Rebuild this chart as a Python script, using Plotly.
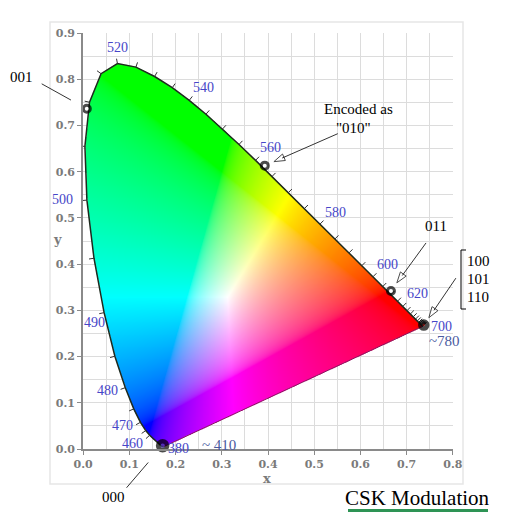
import numpy as np, zlib, struct, base64
import plotly.graph_objects as go

# CIE 1931 2-degree spectral locus (chromaticity x, y)
wavelengths = list(range(380, 705, 5))
locus_x = [0.1741, 0.1740, 0.1738, 0.1736, 0.1733, 0.1730, 0.1726, 0.1721, 0.1714, 0.1703,
           0.1689, 0.1669, 0.1644, 0.1611, 0.1566, 0.1510, 0.1440, 0.1355, 0.1241, 0.1096,
           0.0913, 0.0687, 0.0454, 0.0235, 0.0082, 0.0039, 0.0139, 0.0389, 0.0743, 0.1142,
           0.1547, 0.1929, 0.2296, 0.2658, 0.3016, 0.3373, 0.3731, 0.4087, 0.4441, 0.4788,
           0.5125, 0.5448, 0.5752, 0.6029, 0.6270, 0.6482, 0.6658, 0.6801, 0.6915, 0.7006,
           0.7079, 0.7140, 0.7190, 0.7230, 0.7260, 0.7283, 0.7300, 0.7311, 0.7320, 0.7327,
           0.7334, 0.7340, 0.7344, 0.7346, 0.7347]
locus_y = [0.0050, 0.0050, 0.0049, 0.0049, 0.0048, 0.0048, 0.0048, 0.0048, 0.0051, 0.0058,
           0.0069, 0.0086, 0.0109, 0.0138, 0.0177, 0.0227, 0.0297, 0.0399, 0.0578, 0.0868,
           0.1327, 0.2007, 0.2950, 0.4127, 0.5384, 0.6548, 0.7502, 0.8120, 0.8338, 0.8262,
           0.8059, 0.7816, 0.7543, 0.7243, 0.6923, 0.6589, 0.6245, 0.5896, 0.5547, 0.5202,
           0.4866, 0.4544, 0.4242, 0.3965, 0.3725, 0.3514, 0.3340, 0.3197, 0.3083, 0.2993,
           0.2920, 0.2859, 0.2809, 0.2770, 0.2740, 0.2717, 0.2700, 0.2689, 0.2680, 0.2673,
           0.2666, 0.2660, 0.2656, 0.2654, 0.2653]

# CSK symbol points
point_codes = ["000", "001", "010", "011", "100"]
point_x = [0.172, 0.008, 0.393, 0.666, 0.737]
point_y = [0.007, 0.736, 0.613, 0.342, 0.268]

# wavelength labels: (wavelength, text, pixel shift right, pixel shift down)
wl_labels = [(520, "520", 0, -16), (540, "540", 14, -13), (560, "560", 15, -13),
             (580, "580", 15, -12), (600, "600", 15, -12), (620, "620", 15, -13),
             (700, "700", 19, 0), (500, "500", -24, -1), (490, "490", -10, 10),
             (480, "480", -18, 3), (470, "470", -18, 3), (460, "460", -17, 8),
             (380, "380", 15, 2)]
approx_labels = [(700, "~780", 22, 15), (380, "~ 410", 55, -2)]

x_ticks = [0.0, 0.1, 0.2, 0.3, 0.4, 0.5, 0.6, 0.7, 0.8]
y_ticks = [0.0, 0.1, 0.2, 0.3, 0.4, 0.5, 0.6, 0.7, 0.8, 0.9]

# ---------- layout geometry ----------
W, H = 519, 523
ML, MR, MT, MB = 83, 66, 33, 74
PW, PH = W - ML - MR, H - MT - MB
PXU = PW / 0.8  # pixels per unit
XR, YR = 0.8, 0.9


def paper(px, py):
    return (px - ML) / PW, (H - MB - py) / PH


lx = np.array(locus_x)
ly = np.array(locus_y)

# ---------- colour fill image ----------
step = 0.002
gx = np.arange(0.0, 0.75 + step / 2, step)
gy = np.arange(0.0, 0.85 + step / 2, step)
GX, GY = np.meshgrid(gx, gy)
Yc = np.maximum(GY, 1e-4)
Xv = GX / Yc
Zv = (1 - GX - GY) / Yc
R = 3.2406 * Xv - 1.5372 - 0.4986 * Zv
G = -0.9689 * Xv + 1.8758 + 0.0415 * Zv
B = 0.0557 * Xv - 0.2040 + 1.0570 * Zv
rgb = np.clip(np.stack([R, G, B], -1), 0, None)
rgb = rgb / np.maximum(rgb.max(-1, keepdims=True), 1e-9)
rgb = np.where(rgb <= 0.0031308, 12.92 * rgb, 1.055 * np.power(rgb, 1 / 2.4) - 0.055)
inside = np.zeros(GX.shape, bool)
px_ = np.append(lx, lx[0])
py_ = np.append(ly, ly[0])
for i in range(len(px_) - 1):
    x1, y1, x2, y2 = px_[i], py_[i], px_[i + 1], py_[i + 1]
    cond = (y1 > GY) != (y2 > GY)
    dy = (y2 - y1) if y2 != y1 else 1e-12
    xint = (x2 - x1) * (GY - y1) / dy + x1
    inside ^= cond & (GX < xint)
rgba = np.zeros(GX.shape + (4,), np.uint8)
rgba[..., :3] = np.clip(rgb * 255 + 0.5, 0, 255).astype(np.uint8)
rgba[..., 3] = np.where(inside, 255, 0).astype(np.uint8)


def png_uri(img):
    h, w, _ = img.shape
    raw = b"".join(b"\x00" + img[i].tobytes() for i in range(h))

    def chunk(t, d):
        return struct.pack(">I", len(d)) + t + d + struct.pack(">I", zlib.crc32(t + d) & 0xffffffff)

    data = (b"\x89PNG\r\n\x1a\n" + chunk(b"IHDR", struct.pack(">IIBBBBB", w, h, 8, 6, 0, 0, 0))
            + chunk(b"IDAT", zlib.compress(raw, 9)) + chunk(b"IEND", b""))
    return "data:image/png;base64," + base64.b64encode(data).decode()


fig = go.Figure()
fig.add_trace(go.Image(source=png_uri(rgba), x0=gx[0], dx=step, y0=gy[0], dy=step,
                       hoverinfo="skip", zsmooth="fast"))

# ---------- locus outline ----------
fig.add_trace(go.Scatter(x=list(lx), y=list(ly), mode="lines",
                         line=dict(color="#1e2a1e", width=1.5), hoverinfo="skip"))
fig.add_trace(go.Scatter(x=[lx[-1], lx[0]], y=[ly[-1], ly[0]], mode="lines",
                         line=dict(color="#8a1660", width=1), hoverinfo="skip"))

# wavelength tick marks (5 nm) pointing outward
tlen = 5 / PXU
tx, ty = [], []
cx, cy = 0.33, 0.33
for i, wl in enumerate(wavelengths):
    if wl < 460:
        continue
    j0, j1 = max(i - 1, 0), min(i + 1, len(wavelengths) - 1)
    txg, tyg = lx[j1] - lx[j0], ly[j1] - ly[j0]
    n = np.hypot(txg, tyg)
    nx, ny = -tyg / n, txg / n
    if nx * (lx[i] - cx) + ny * (ly[i] - cy) < 0:
        nx, ny = -nx, -ny
    tx += [lx[i], lx[i] + nx * tlen, None]
    ty += [ly[i], ly[i] + ny * tlen, None]
fig.add_trace(go.Scatter(x=tx, y=ty, mode="lines", line=dict(color="#333333", width=1),
                         hoverinfo="skip", cliponaxis=False))

# ---------- arrows (tail offset px, standoff px) ----------
shapes = []
arrow_specs = {"001": (-45, -25, 9), "010": (73, -32, 10), "011": (35, -48, 10),
               "100": (32, -47, 9), "000": (-36, 42, 13)}
for code, (odx, ody, so) in arrow_specs.items():
    k = point_codes.index(code)
    x0, y0 = point_x[k], point_y[k]
    L = np.hypot(odx, ody)
    tailx, taily = x0 + odx / PXU, y0 - ody / PXU
    tipx, tipy = x0 + odx / L * so / PXU, y0 - ody / L * so / PXU
    basex, basey = x0 + odx / L * (so + 9) / PXU, y0 - ody / L * (so + 9) / PXU
    shapes.append(dict(type="line", xref="paper", yref="paper",
                       x0=tailx / XR, y0=taily / YR, x1=basex / XR, y1=basey / YR,
                       line=dict(color="black", width=0.8)))
    fig.add_trace(go.Scatter(x=[tailx, tipx], y=[taily, tipy], mode="markers",
                             marker=dict(symbol=["circle", "arrow"], size=[0, 11.5], color="white",
                                         angleref="previous",
                                         line=dict(color="black", width=1)),
                             hoverinfo="skip", cliponaxis=False))

# ---------- symbol points ----------
msize = [9, 7, 7, 7, 7]
mline = [4.5, 3, 3, 3, 4.5]
mcol = ["#4a3aa0", "white", "white", "white", "#800000"]
fig.add_trace(go.Scatter(x=point_x, y=point_y, mode="markers", text=point_codes,
                         marker=dict(size=msize, color=mcol, line=dict(color="black", width=mline)),
                         hoverinfo="text", cliponaxis=False))

annotations = []
lab_font = dict(family="Liberation Serif", size=14, color="#4646c8")
for wl, txt, sx, sy in wl_labels:
    i = wavelengths.index(wl)
    annotations.append(dict(x=lx[i], y=ly[i], xref="x", yref="y", text=txt, showarrow=False,
                            xanchor="center", yanchor="middle",
                            xshift=sx, yshift=-sy, font=lab_font))
for wl, txt, sx, sy in approx_labels:
    i = wavelengths.index(wl)
    annotations.append(dict(x=lx[i], y=ly[i], xref="x", yref="y", text=txt, showarrow=False,
                            xanchor="center", yanchor="middle", xshift=sx, yshift=-sy,
                            font=dict(family="Liberation Serif", size=15, color="#4a5aa0")))

note_font = dict(family="Liberation Serif", size=15, color="black")
notes = [("001", 21, 77, "center"), ("Encoded as", 358, 109, "center"), ('"010"', 353, 128, "center"),
         ("011", 436, 226, "center"), ("100", 465, 261, "left"), ("101", 465, 279, "left"),
         ("110", 465, 297, "left"), ("000", 113, 497, "center")]
for txt, px, py, anc in notes:
    xp, yp = paper(px, py)
    annotations.append(dict(x=xp, y=yp, xref="paper", yref="paper", text=txt, showarrow=False,
                            xanchor=anc, yanchor="middle", font=note_font))
xp, yp = paper(417.5, 498)
annotations.append(dict(x=xp, y=yp, xref="paper", yref="paper", text="CSK Modulation",
                        showarrow=False, xanchor="center", yanchor="middle",
                        font=dict(family="Liberation Serif", size=21, color="black")))
axis_font = dict(family="DejaVu Serif", size=13, color="#7a7a7a", weight="bold")
for txt, px, py in [("x", 267, 478), ("y", 57, 239)]:
    xp, yp = paper(px, py)
    annotations.append(dict(x=xp, y=yp, xref="paper", yref="paper", text=txt, showarrow=False,
                            xanchor="center", yanchor="middle", font=axis_font))

fx0, fy0 = paper(50, 22)
fx1, fy1 = paper(463, 484)
shapes.append(dict(type="rect", xref="paper", yref="paper", x0=fx0, y0=fy1, x1=fx1, y1=fy0,
                   line=dict(color="#e6e6e6", width=1.5), layer="below"))
b = [paper(466, 250), paper(461, 250), paper(461, 309), paper(466, 309)]
shapes.append(dict(type="path", xref="paper", yref="paper",
                   path="M{},{} L{},{} L{},{} L{},{}".format(*[v for p in b for v in p]),
                   line=dict(color="black", width=1)))
u0, u1 = paper(348, 510.5), paper(488, 510.5)
shapes.append(dict(type="line", xref="paper", yref="paper", x0=u0[0], y0=u0[1], x1=u1[0], y1=u1[1],
                   line=dict(color="#2e9455", width=3)))

tickfont = dict(family="DejaVu Serif", size=11, color="#7a7a7a", weight="bold")
axis_common = dict(showgrid=True, gridcolor="#dcdcdc", gridwidth=1, zeroline=False,
                   showline=True, linecolor="#8a8a8a", linewidth=2, ticks="outside", ticklen=4,
                   tickcolor="#8a8a8a", tickfont=tickfont, tickformat=".1f",
                   minor=dict(dtick=0.05, showgrid=True, gridcolor="#dcdcdc", ticks=""))
fig.update_layout(
    width=W, height=H, margin=dict(l=ML, r=MR, t=MT, b=MB),
    paper_bgcolor="white", plot_bgcolor="white", showlegend=False,
    xaxis=dict(range=[0, XR], autorange=False, tickvals=x_ticks, **axis_common),
    yaxis=dict(range=[0, YR], autorange=False, tickvals=y_ticks, **axis_common),
    annotations=annotations, shapes=shapes,
)
fig.write_html("out.html", config={"displayModeBar": False},
               post_script="document.body.style.margin='0';")
